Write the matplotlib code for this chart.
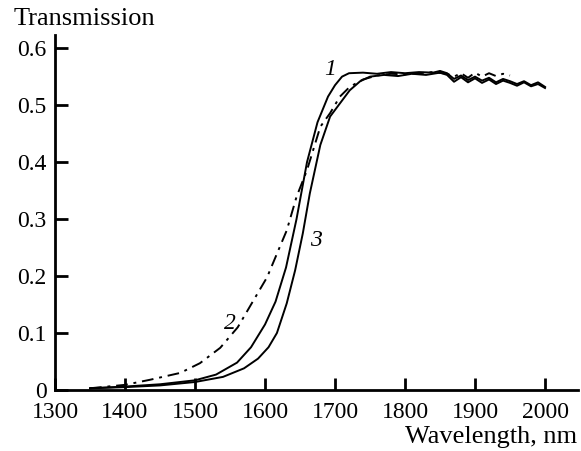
import numpy as np
import matplotlib.pyplot as plt
from matplotlib.ticker import FuncFormatter

plt.rcParams['font.family'] = ['Liberation Serif', 'DejaVu Serif']

# Curve 1 (solid)
wl1 = [1350, 1400, 1450, 1500, 1530, 1560, 1580, 1600, 1615, 1630, 1645, 1660, 1675, 1690,
       1700, 1710, 1720, 1740, 1760, 1780, 1800, 1820, 1840, 1850, 1860, 1870, 1880, 1890,
       1900, 1910, 1920, 1930, 1940, 1950, 1960, 1970, 1980, 1990, 2000]
t1 = [0.003, 0.006, 0.010, 0.017, 0.027, 0.048, 0.075, 0.115, 0.155, 0.215, 0.300, 0.400, 0.470, 0.515,
      0.535, 0.550, 0.556, 0.557, 0.555, 0.558, 0.556, 0.558, 0.557, 0.560, 0.556, 0.546, 0.552, 0.544,
      0.550, 0.543, 0.548, 0.540, 0.546, 0.542, 0.537, 0.542, 0.535, 0.540, 0.532]

# Curve 2 (dash-dot)
wl2 = [1350, 1400, 1436, 1479, 1507, 1536, 1561, 1581, 1603, 1619, 1631, 1645, 1660, 1679,
       1693, 1707, 1721, 1740, 1760, 1780, 1800, 1820, 1840, 1860, 1870, 1880, 1890, 1900,
       1910, 1920, 1930, 1940, 1950]
t2 = [0.003, 0.009, 0.018, 0.030, 0.047, 0.074, 0.110, 0.152, 0.198, 0.245, 0.280, 0.339, 0.386, 0.462,
      0.486, 0.515, 0.532, 0.545, 0.552, 0.555, 0.554, 0.556, 0.558, 0.555, 0.550, 0.556, 0.548, 0.557,
      0.550, 0.556, 0.551, 0.555, 0.552]

# Curve 3 (solid)
wl3 = [1350, 1400, 1450, 1500, 1540, 1570, 1590, 1605, 1617, 1631, 1643, 1654, 1664, 1679,
       1693, 1707, 1721, 1736, 1750, 1770, 1790, 1810, 1830, 1850, 1860, 1870, 1880, 1890,
       1900, 1910, 1920, 1930, 1940, 1950, 1960, 1970, 1980, 1990, 2000]
t3 = [0.003, 0.005, 0.008, 0.014, 0.023, 0.038, 0.055, 0.075, 0.100, 0.152, 0.210, 0.275, 0.345, 0.430,
      0.480, 0.503, 0.526, 0.542, 0.550, 0.553, 0.551, 0.555, 0.553, 0.557, 0.553, 0.541, 0.549, 0.540,
      0.547, 0.539, 0.545, 0.537, 0.543, 0.539, 0.534, 0.540, 0.533, 0.537, 0.530]

fig = plt.figure(figsize=(5.81, 4.51), dpi=100)
ax = fig.add_axes([0.0947, 0.1353, 0.900, 0.787])

ax.plot(wl1, t1, color='black', lw=1.4)
ax.plot(wl2, t2, color='black', lw=1.4, linestyle=(0, (6, 3, 1.5, 3)))
ax.plot(wl3, t3, color='black', lw=1.4)

lab = dict(fontsize=17, style='italic', color='black')
ax.text(1693, 0.562, '1', ha='center', va='center', **lab)
ax.text(1550, 0.117, '2', ha='center', va='center', **lab)
ax.text(1673, 0.263, '3', ha='center', va='center', **lab)

ax.set_xlim(1300, 2047)
ax.set_ylim(0, 0.623)
ax.set_xticks(np.arange(1300, 2001, 100))
ax.set_yticks(np.arange(0, 0.61, 0.1))
ax.yaxis.set_major_formatter(FuncFormatter(lambda v, p: f"{v:.1f}" if v > 0.01 else "0"))

for s in ['top', 'right']:
    ax.spines[s].set_visible(False)
for s in ['left', 'bottom']:
    ax.spines[s].set_linewidth(2)
ax.tick_params(direction='in', length=9, width=2, labelsize=17)
ax.tick_params(axis='x', pad=8.5)
ax.tick_params(axis='y', pad=6)
# nudge the "0" label up a little so it clears the "1300" below it
ax.get_yticklabels()[0].set_verticalalignment('center_baseline')

fig.text(0.024, 0.958, 'Transmission', fontsize=19, ha='left', va='center')
fig.text(0.993, 0.032, 'Wavelength, nm', fontsize=19, ha='right', va='center')

fig.savefig('out.png', dpi=100)
